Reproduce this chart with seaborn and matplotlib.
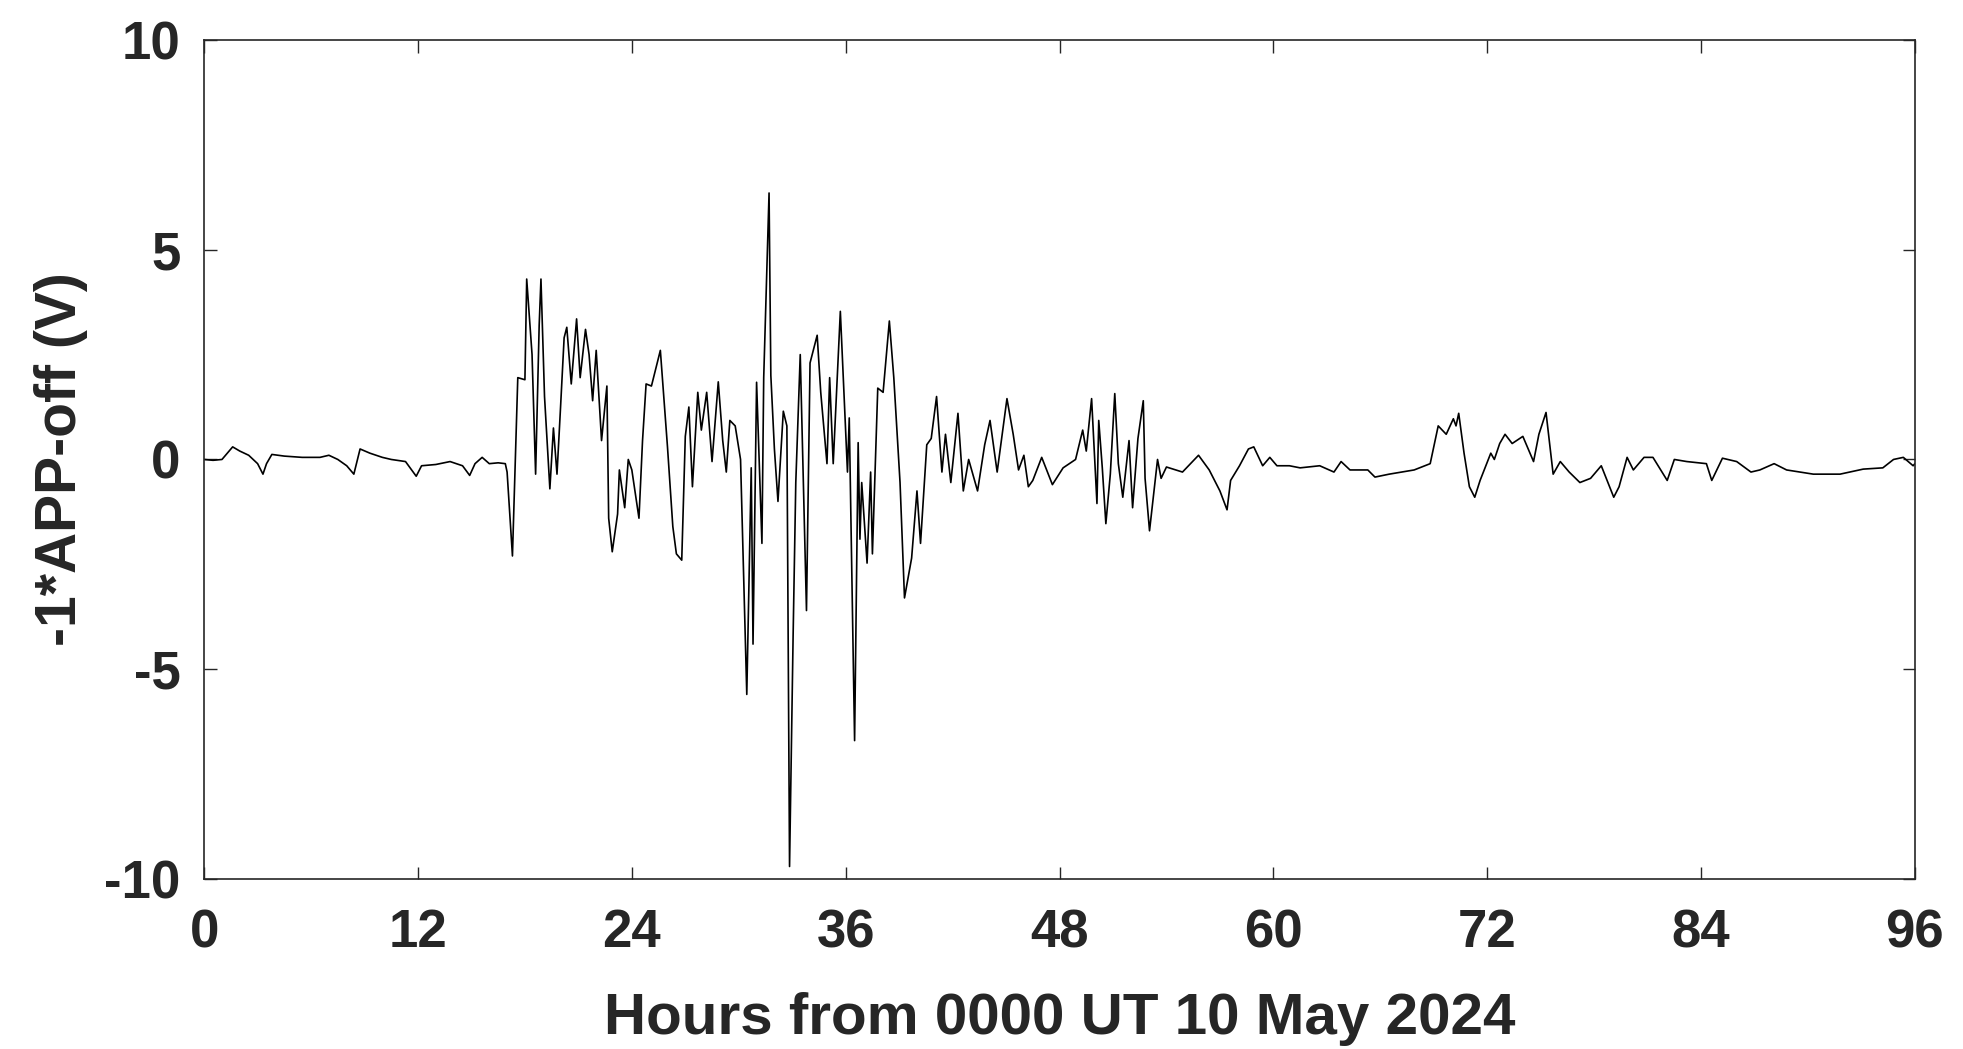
import numpy as np
import pandas as pd
import matplotlib
matplotlib.use('Agg')
import matplotlib.pyplot as plt
import seaborn as sns

# values (hours from 0000 UT 10 May 2024, volts)
hours = [
    0.0, 0.5, 1.0, 1.6, 2.0, 2.5, 3.0, 3.3, 3.5, 3.8, 4.5, 5.5, 6.5, 7.0, 7.5,
    8.0, 8.4, 8.75, 9.3, 10.0, 10.5, 11.3, 11.9, 12.2, 13.0, 13.8, 14.5, 14.9,
    15.2, 15.6, 16.0, 16.5, 16.9, 17.0, 17.3, 17.6, 18.0, 18.1, 18.4, 18.6,
    18.8, 18.9, 19.1, 19.4, 19.6, 19.8, 20.0, 20.2, 20.35, 20.6, 20.9, 21.1,
    21.4, 21.6, 21.8, 22.0, 22.3, 22.6, 22.7, 22.9, 23.2, 23.3, 23.6, 23.8,
    24.0, 24.4, 24.6, 24.8, 25.1, 25.6, 26.0, 26.3, 26.5, 26.8, 27.0, 27.2,
    27.4, 27.7, 27.9, 28.2, 28.5, 28.85, 29.1, 29.3, 29.5, 29.8, 30.1, 30.45,
    30.7, 30.8, 31.0, 31.3, 31.4, 31.7, 31.8, 32.0, 32.2, 32.5, 32.7, 32.85,
    33.05, 33.2, 33.45, 33.8, 34.0, 34.4, 34.6, 34.95, 35.1, 35.3, 35.7, 36.1,
    36.2, 36.5, 36.7, 36.8, 36.9, 37.2, 37.4, 37.5, 37.8, 38.1, 38.45, 38.7,
    39.05, 39.3, 39.7, 40.0, 40.2, 40.55, 40.8, 41.1, 41.4, 41.6, 41.9, 42.3,
    42.6, 42.9, 43.4, 43.8, 44.1, 44.5, 45.05, 45.4, 45.7, 46.0, 46.25, 46.5,
    47.0, 47.6, 48.2, 48.9, 49.3, 49.5, 49.8, 50.1, 50.2, 50.4, 50.6, 50.85,
    51.1, 51.3, 51.55, 51.9, 52.1, 52.4, 52.7, 52.8, 53.05, 53.5, 53.7, 54.0,
    54.9, 55.8, 56.4, 57.0, 57.4, 57.6, 58.1, 58.6, 58.9, 59.4, 59.8, 60.2,
    60.9, 61.5, 62.6, 63.4, 63.8, 64.3, 65.3, 65.7, 66.5, 67.9, 68.8, 69.25,
    69.7, 70.1, 70.25, 70.4, 70.7, 71.0, 71.3, 71.6, 72.2, 72.4, 72.7, 73.0,
    73.4, 74.0, 74.6, 74.9, 75.3, 75.7, 76.1, 76.3, 76.6, 77.2, 77.8, 78.4,
    79.1, 79.4, 79.85, 80.2, 80.8, 81.3, 82.1, 82.5, 83.2, 84.3, 84.6, 85.2,
    86.0, 86.8, 87.3, 88.1, 88.8, 90.3, 91.8, 93.1, 94.2, 94.8, 95.35, 95.9,
    96.0,
]
volts = [
    0.0, -0.02, 0.0, 0.3, 0.2, 0.1, -0.1, -0.35, -0.1, 0.12, 0.08, 0.05, 0.05,
    0.1, 0.0, -0.15, -0.35, 0.25, 0.15, 0.05, 0.0, -0.05, -0.4, -0.15, -0.12,
    -0.05, -0.15, -0.38, -0.1, 0.05, -0.1, -0.08, -0.1, -0.3, -2.3, 1.95, 1.9,
    4.3, 2.5, -0.35, 3.2, 4.3, 1.5, -0.7, 0.75, -0.35, 1.25, 2.9, 3.15, 1.8,
    3.35, 1.95, 3.1, 2.5, 1.4, 2.6, 0.45, 1.75, -1.4, -2.2, -1.3, -0.25,
    -1.15, 0.0, -0.25, -1.4, 0.45, 1.8, 1.75, 2.6, 0.3, -1.6, -2.25, -2.4,
    0.55, 1.25, -0.65, 1.6, 0.7, 1.6, -0.05, 1.85, 0.45, -0.3, 0.93, 0.8, 0.0,
    -5.6, -0.2, -4.4, 1.84, -2.0, 1.95, 6.35, 2.0, 0.25, -1.0, 1.15, 0.8,
    -9.7, -4.2, -0.55, 2.5, -3.6, 2.3, 2.96, 1.6, -0.1, 1.95, -0.1, 3.53,
    -0.3, 0.99, -6.7, 0.4, -1.9, -0.55, -2.47, -0.3, -2.25, 1.7, 1.6, 3.3,
    1.95, -0.55, -3.3, -2.35, -0.75, -2.0, 0.35, 0.5, 1.5, -0.3, 0.6, -0.55,
    1.1, -0.75, 0.0, -0.75, 0.35, 0.93, -0.3, 1.45, 0.6, -0.25, 0.1, -0.65,
    -0.5, 0.05, -0.6, -0.2, 0.0, 0.7, 0.2, 1.45, -1.05, 0.93, -0.2, -1.53,
    -0.35, 1.57, -0.1, -0.9, 0.45, -1.15, 0.5, 1.4, -0.45, -1.7, 0.0, -0.45,
    -0.18, -0.3, 0.1, -0.25, -0.75, -1.2, -0.5, -0.15, 0.25, 0.3, -0.15, 0.05,
    -0.15, -0.15, -0.2, -0.15, -0.3, -0.05, -0.25, -0.25, -0.42, -0.35,
    -0.25, -0.1, 0.8, 0.6, 0.97, 0.8, 1.1, 0.15, -0.65, -0.9, -0.5, 0.15, 0.0,
    0.38, 0.6, 0.38, 0.55, -0.05, 0.6, 1.12, -0.35, -0.05, -0.15, -0.3, -0.55,
    -0.45, -0.15, -0.9, -0.65, 0.05, -0.25, 0.05, 0.05, -0.5, 0.0, -0.05,
    -0.1, -0.5, 0.03, -0.05, -0.3, -0.25, -0.1, -0.25, -0.35, -0.35, -0.23,
    -0.2, 0.0, 0.05, -0.15, -0.1,
]

x_ticks = [0, 12, 24, 36, 48, 60, 72, 84, 96]
y_ticks = [-10, -5, 0, 5, 10]

df = pd.DataFrame({'Hours': hours, 'Volts': volts})

sns.set_style('ticks')
plt.rcParams['font.family'] = ['Liberation Sans', 'DejaVu Sans']
plt.rcParams['font.weight'] = 'bold'
plt.rcParams['axes.unicode_minus'] = False

fig = plt.figure(figsize=(19.63, 10.49), dpi=100)
ax = fig.add_axes([0.104, 0.162, 0.8715, 0.80])

sns.lineplot(data=df, x='Hours', y='Volts', color='black', linewidth=1.2, ax=ax)

ax.set_xlim(0, 96)
ax.set_ylim(-10, 10)
ax.set_xticks(x_ticks)
ax.set_yticks(y_ticks)
ax.tick_params(direction='in', top=True, right=True, length=9, width=1.0,
               labelsize=38, colors='#262626')
ax.tick_params(axis='x', pad=21)
ax.tick_params(axis='y', pad=17)
for lab in ax.get_xticklabels() + ax.get_yticklabels():
    lab.set_fontweight('bold')
for s in ax.spines.values():
    s.set_visible(True)
    s.set_linewidth(1.2)
    s.set_color('#262626')

ax.set_xlabel('Hours from 0000 UT 10 May 2024', fontsize=42, fontweight='bold',
              color='#262626', labelpad=24)
ax.set_ylabel('-1*APP-off (V)', fontsize=41, fontweight='bold',
              color='#262626', labelpad=12)

fig.savefig('out.png', dpi=100, facecolor='white')
